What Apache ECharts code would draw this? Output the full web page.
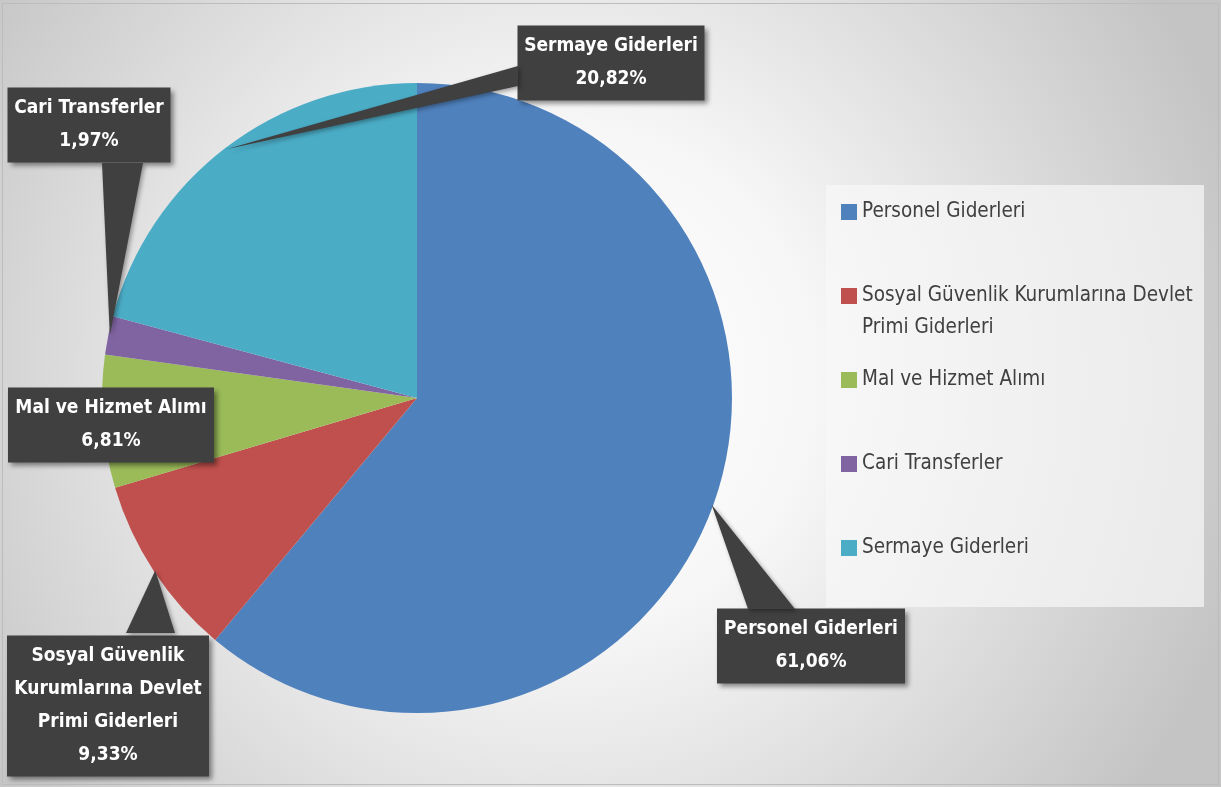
<!DOCTYPE html>
<html>
<head>
<meta charset="utf-8">
<script src="https://cdn.jsdelivr.net/npm/echarts@6/dist/echarts.min.js"></script>
<style>
html, body { margin: 0; padding: 0; background: #fff; }
#main { width: 1221px; height: 787px; }
</style>
</head>
<body>
<div id="main"></div>
<script>
var categories = ['Personel Giderleri', 'Sosyal Güvenlik Kurumlarına Devlet Primi Giderleri', 'Mal ve Hizmet Alımı', 'Cari Transferler', 'Sermaye Giderleri'];
var shares = [61.06, 9.33, 6.81, 1.97, 20.82];
var labelNames = ['Personel Giderleri', 'Sosyal Güvenlik\nKurumlarına Devlet\nPrimi Giderleri', 'Mal ve Hizmet Alımı', 'Cari Transferler', 'Sermaye Giderleri'];
var legendNames = ['Personel Giderleri', 'Sosyal Güvenlik Kurumlarına Devlet\nPrimi Giderleri', 'Mal ve Hizmet Alımı', 'Cari Transferler', 'Sermaye Giderleri'];
var colors = ['#4F81BD', '#C0504D', '#9BBB59', '#8064A2', '#4BACC6'];

// where each callout box sits (centre, inner width), and where its pointer joins the box
var labelPos = [[811, 646], [108, 706], [111, 425], [89, 125], [611, 63]];
var labelWidth = [168, 182, 186, 143, 167];
var wedgeBase = [
  [[748, 609], [795, 609]],
  [[126, 633], [175, 633]],
  null,
  [[102, 163], [143, 163]],
  [[518, 66], [518, 86]]
];

var font = "'Liberation Sans Narrow', 'DejaVu Sans Condensed', sans-serif";
var boxColor = '#404040';

var chart = echarts.init(document.getElementById('main'));

var legendBox = {
  type: 'rect',
  shape: { x: 826, y: 185, width: 378, height: 422 },
  style: { fill: 'rgba(248,248,248,0.7)' },
  z: 0
};
var frame = {
  type: 'rect',
  shape: { x: 2.5, y: 3.5, width: 1216, height: 781 },
  style: { fill: 'none', stroke: '#bcbcbc', lineWidth: 1 },
  z: 0
};

var option = {
  animation: false,
  backgroundColor: {
    type: 'radial', x: 0.46, y: 0.48, r: 0.9,
    colorStops: [{ offset: 0, color: '#ffffff' }, { offset: 0.35, color: '#f7f7f7' }, { offset: 1, color: '#c4c4c4' }]
  },
  color: colors,
  legend: {
    orient: 'vertical',
    left: 841,
    top: 164,
    padding: 0,
    itemWidth: 16,
    itemHeight: 16,
    itemGap: -12,
    icon: 'rect',
    selectedMode: false,
    data: categories,
    formatter: function (name) {
      var i = categories.indexOf(name);
      var lines = legendNames[i].split('\n');
      // keep the swatch level with the first line of the text
      if (lines.length === 1) lines.push('\u00a0');
      return '\u00a0\n' + lines.join('\n');
    },
    textStyle: { fontFamily: font, fontSize: 20.5, lineHeight: 32, color: '#404040' }
  },
  graphic: [legendBox, frame],
  series: [{
    type: 'pie',
    center: [417, 398],
    radius: 315,
    startAngle: 90,
    clockwise: true,
    itemStyle: { borderWidth: 0 },
    emphasis: { disabled: true },
    data: categories.map(function (c, i) { return { name: c, value: shares[i] }; }),
    label: {
      show: true,
      position: 'outside',
      overflow: 'none',
      formatter: function (p) {
        return labelNames[p.dataIndex] + '\n' + p.value.toFixed(2).replace('.', ',') + '%';
      },
      color: '#fff',
      fontFamily: font,
      fontWeight: 'bold',
      fontSize: 19,
      lineHeight: 33,
      align: 'center',
      backgroundColor: boxColor,
      padding: [5, 10, 4, 10],
      shadowColor: 'rgba(0,0,0,0.45)',
      shadowBlur: 5,
      shadowOffsetX: 3,
      shadowOffsetY: 3
    },
    labelLine: { show: false },
    labelLayout: function (params) {
      var i = params.dataIndex;
      var p = labelPos[i];
      return { x: p[0], y: p[1], width: labelWidth[i], align: 'center', verticalAlign: 'middle' };
    }
  }]
};
chart.setOption(option);

// callout pointers: from the slice edge (mid-angle) to the label box
var seriesData = chart.getModel().getSeriesByIndex(0).getData();
var wedges = [];
wedgeBase.forEach(function (b, i) {
  if (!b) return;
  var l = seriesData.getItemLayout(i);
  var mid = (l.startAngle + l.endAngle) / 2;
  var tip = [l.cx + l.r * 0.995 * Math.cos(mid), l.cy + l.r * 0.995 * Math.sin(mid)];
  wedges.push({
    type: 'polygon',
    shape: { points: [tip, b[0], b[1]] },
    style: { fill: boxColor, shadowColor: 'rgba(0,0,0,0.35)', shadowBlur: 4, shadowOffsetX: 2, shadowOffsetY: 2 },
    z: 100
  });
});
chart.setOption({ graphic: [legendBox, frame].concat(wedges) });
</script>
</body>
</html>
